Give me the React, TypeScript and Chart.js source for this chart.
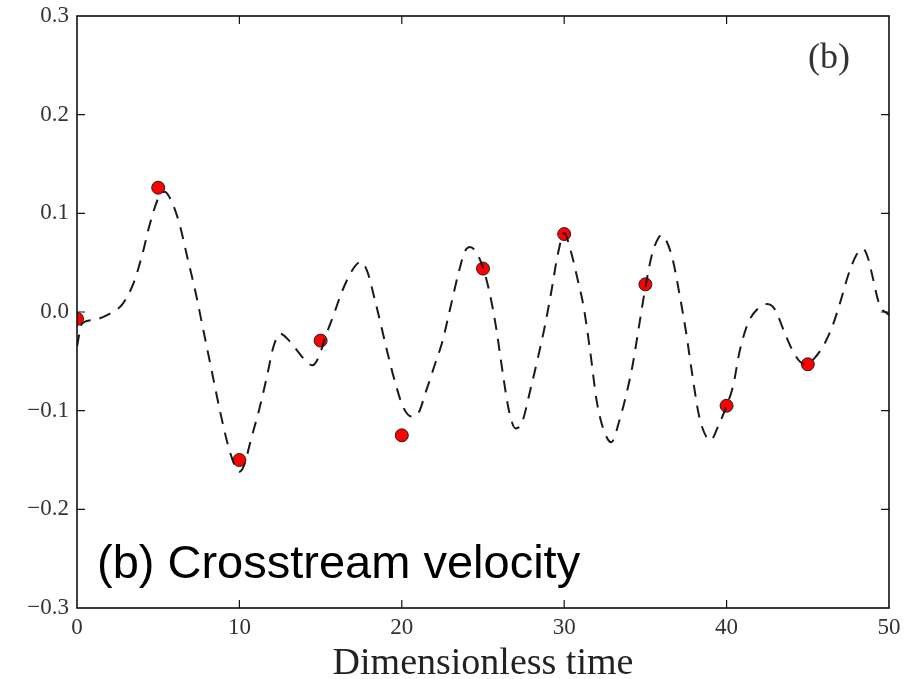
import React, { useEffect, useRef } from "react";
import { Chart, registerables } from "chart.js";

Chart.register(...registerables);

// Dashed curve (time, crosstream velocity)
const curveT = [
  0, 0.3, 1.0, 2.0, 2.8, 3.5, 4.0, 4.5, 5.0, 5.4, 5.8, 6.3, 6.8, 7.3, 7.8, 8.3, 8.8, 9.3, 9.7, 10.0,
  10.3, 10.7, 11.2, 11.7, 12.1, 12.5, 13.0, 13.5, 14.0, 14.5, 14.9, 15.3, 15.8, 16.3, 16.8, 17.2, 17.5,
  17.9, 18.3, 18.7, 19.1, 19.6, 20.1, 20.6, 21.0, 21.5, 22.0, 22.5, 23.0, 23.5, 23.9, 24.2, 24.6, 25.0,
  25.4, 25.8, 26.2, 26.6, 27.0, 27.4, 27.9, 28.4, 28.8, 29.2, 29.6, 30.0, 30.4, 30.8, 31.2, 31.6, 32.0,
  32.4, 32.9, 33.4, 33.8, 34.2, 34.6, 35.0, 35.4, 35.8, 36.0, 36.3, 36.7, 37.1, 37.5, 37.9, 38.3, 38.8,
  39.0, 39.5, 40.0, 40.4, 40.8, 41.3, 41.9, 42.5, 43.0, 43.5, 44.0, 44.5, 44.9, 45.4, 46.0, 46.5, 47.0,
  47.5, 48.0, 48.4, 48.7, 49.0, 49.4, 50.0,
];
const curveV = [
  -0.035, -0.012, -0.008, -0.002, 0.008, 0.03, 0.057, 0.09, 0.115, 0.122, 0.113, 0.09, 0.055, 0.02, -0.02,
  -0.06, -0.1, -0.135, -0.155, -0.162,
  -0.155, -0.13, -0.1, -0.065, -0.035, -0.022, -0.028, -0.038, -0.048, -0.054, -0.045, -0.025, -0.003, 0.02,
  0.038, 0.048, 0.051,
  0.04, 0.015, -0.012, -0.04, -0.072, -0.097, -0.106, -0.103, -0.08, -0.055, -0.03, 0.005, 0.04, 0.062, 0.066,
  0.06, 0.045,
  0.02, -0.015, -0.06, -0.1, -0.118, -0.112, -0.08, -0.045, -0.015, 0.02, 0.058, 0.08, 0.062, 0.035, 0.005,
  -0.04, -0.09,
  -0.118, -0.132, -0.11, -0.085, -0.055, -0.015, 0.025, 0.058, 0.075, 0.078, 0.072, 0.052, 0.018, -0.02,
  -0.065, -0.105, -0.128,
  -0.13, -0.115, -0.095, -0.075, -0.04, -0.012, 0.003, 0.008, 0.002, -0.018, -0.037, -0.05, -0.053, -0.047,
  -0.033, -0.015, 0.01,
  0.038, 0.058, 0.064, 0.055, 0.035, 0.008, -0.003,
];

// Red sample points
const sampleT = [0, 5, 10, 15, 20, 25, 30, 35, 40, 45];
const sampleV = [-0.007, 0.126, -0.15, -0.029, -0.125, 0.044, 0.079, 0.028, -0.095, -0.053];

// Ticks
const xTicks = [0, 10, 20, 30, 40, 50];
const xTickLabels = ["0", "10", "20", "30", "40", "50"];
const yTicks = [-0.3, -0.2, -0.1, 0.0, 0.1, 0.2, 0.3];
const yTickLabels = ["\u22120.3", "\u22120.2", "\u22120.1", "0.0", "0.1", "0.2", "0.3"];

const xTitle = "Dimensionless time";
const panelTag = "(b)";
const panelCaption = "(b) Crosstream velocity";

const framePlugin = {
  id: "frame",
  afterDraw(chart: any) {
    const { ctx, chartArea } = chart;
    const xs = chart.scales.x;
    const ys = chart.scales.y;
    const { left, right, top, bottom } = chartArea;
    ctx.save();
    ctx.strokeStyle = "#111";
    ctx.lineWidth = 1.6;
    ctx.strokeRect(left, top, right - left, bottom - top);
    ctx.lineWidth = 1.2;
    const tl = 8;
    ctx.beginPath();
    xTicks.forEach((t) => {
      if (t <= xTicks[0] || t >= xTicks[xTicks.length - 1]) return;
      const px = xs.getPixelForValue(t);
      ctx.moveTo(px, bottom);
      ctx.lineTo(px, bottom - tl);
      ctx.moveTo(px, top);
      ctx.lineTo(px, top + tl);
    });
    yTicks.forEach((t) => {
      if (t <= yTicks[0] || t >= yTicks[yTicks.length - 1]) return;
      const py = ys.getPixelForValue(t);
      ctx.moveTo(left, py);
      ctx.lineTo(left + tl, py);
      ctx.moveTo(right, py);
      ctx.lineTo(right - tl, py);
    });
    ctx.stroke();

    // panel tag top right
    ctx.fillStyle = "#333";
    ctx.font = '36px "Liberation Serif"';
    ctx.textAlign = "right";
    ctx.textBaseline = "alphabetic";
    ctx.fillText(panelTag, right - 39, top + 52);

    // caption
    ctx.fillStyle = "#000";
    ctx.font = '47px "Liberation Sans"';
    ctx.textAlign = "left";
    ctx.fillText(panelCaption, left + 20, bottom - 30);
    ctx.restore();
  },
};

export default function App() {
  const ref = useRef<HTMLCanvasElement | null>(null);

  useEffect(() => {
    if (!ref.current) return;
    const chart = new Chart(ref.current, {
      type: "line",
      data: {
        datasets: [
          {
            type: "line",
            data: curveT.map((t, i) => ({ x: t, y: curveV[i] })),
            borderColor: "#1a1a1a",
            borderWidth: 2,
            borderDash: [12, 9],
            pointRadius: 0,
            tension: 0.4,
            cubicInterpolationMode: "monotone",
            fill: false,
            order: 0,
            clip: 0,
          } as any,
          {
            type: "scatter",
            data: sampleT.map((t, i) => ({ x: t, y: sampleV[i] })),
            backgroundColor: "#ff0000",
            borderColor: "#222",
            borderWidth: 1,
            pointRadius: 6.5,
            showLine: false,
            order: 1,
            clip: 0,
          } as any,
        ],
      },
      options: {
        animation: false,
        responsive: true,
        maintainAspectRatio: false,
        layout: { padding: { top: 16, right: 24, left: 0, bottom: 0 } },
        plugins: { legend: { display: false }, tooltip: { enabled: false } },
        scales: {
          x: {
            type: "linear",
            min: 0,
            max: 50,
            afterBuildTicks: (s: any) => {
              s.ticks = xTicks.map((v) => ({ value: v }));
            },
            afterFit: (s: any) => {
              s.height = 71;
            },
            ticks: {
              padding: 6,
              color: "#333",
              font: { family: "Liberation Serif", size: 23 },
              maxRotation: 0,
              callback: (v: any) => {
                const i = xTicks.indexOf(Number(v));
                return i >= 0 ? xTickLabels[i] : "";
              },
            },
            grid: { display: false, drawTicks: false },
            border: { display: false },
            title: {
              display: true,
              text: xTitle,
              color: "#222",
              font: { family: "Liberation Serif", size: 38, lineHeight: 1 },
              padding: { top: 0, bottom: -4 },
            },
          },
          y: {
            type: "linear",
            min: -0.3,
            max: 0.3,
            afterBuildTicks: (s: any) => {
              s.ticks = yTicks.map((v) => ({ value: v }));
            },
            afterFit: (s: any) => {
              s.width = 77;
              s.paddingTop = 0;
              s.paddingBottom = 0;
            },
            ticks: {
              padding: 8,
              color: "#333",
              font: { family: "Liberation Serif", size: 23, lineHeight: 0.5 },
              callback: (v: any) => {
                const i = yTicks.findIndex((t) => Math.abs(t - Number(v)) < 1e-9);
                return i >= 0 ? yTickLabels[i] : "";
              },
            },
            grid: { display: false, drawTicks: false },
            border: { display: false },
          },
        },
      },
      plugins: [framePlugin],
    });
    return () => chart.destroy();
  }, []);

  return (
    <div style={{ position: "fixed", left: 0, top: 0, width: 913, height: 679, background: "#fff" }}>
      <canvas ref={ref} />
    </div>
  );
}
